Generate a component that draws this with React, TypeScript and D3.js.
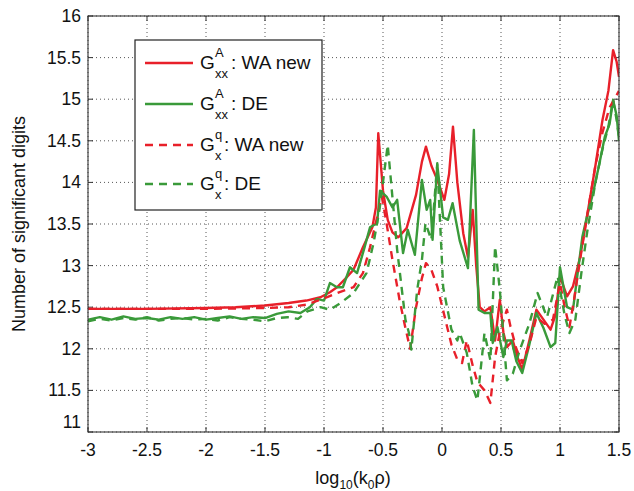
import React from "react";
import * as d3 from "d3";

const xTicks = [-3, -2.5, -2, -1.5, -1, -0.5, 0, 0.5, 1, 1.5];
const yTicks = [11, 11.5, 12, 12.5, 13, 13.5, 14, 14.5, 15, 15.5, 16];

const redSolidX = [-3, -2.5, -2, -1.75, -1.5, -1.3, -1.15, -1.03, -0.95, -0.89, -0.82, -0.75, -0.67, -0.59, -0.56, -0.54, -0.5, -0.46, -0.42, -0.37, -0.3, -0.22, -0.17, -0.136, -0.09, -0.04, 0.02, 0.06, 0.093, 0.13, 0.18, 0.22, 0.26, 0.29, 0.32, 0.36, 0.41, 0.45, 0.49, 0.52, 0.55, 0.6, 0.64, 0.68, 0.74, 0.8, 0.86, 0.92, 0.96, 1.0, 1.06, 1.11, 1.17, 1.23, 1.3, 1.36, 1.41, 1.45, 1.48, 1.5];
const redSolidY = [12.48, 12.48, 12.49, 12.5, 12.52, 12.55, 12.58, 12.62, 12.68, 12.74, 12.84, 12.95, 13.22, 13.46, 13.7, 14.59, 13.9, 13.55, 13.4, 13.34, 13.45, 13.85, 14.25, 14.43, 14.2, 14.03, 13.79, 14.1, 14.67, 14.0, 13.39, 13.1, 13.67, 13.0, 12.5, 12.45, 12.5, 12.1, 12.59, 12.2, 12.02, 12.1, 11.9, 11.75, 12.1, 12.47, 12.35, 12.23, 12.4, 12.87, 12.63, 12.75, 13.1, 13.6, 14.2, 14.75, 15.1, 15.59, 15.45, 15.27];

const greenSolidX = [-3, -2.9, -2.8, -2.7, -2.6, -2.5, -2.4, -2.3, -2.2, -2.1, -2.0, -1.9, -1.8, -1.7, -1.6, -1.5, -1.4, -1.3, -1.2, -1.12, -1.06, -1.0, -0.95, -0.89, -0.84, -0.78, -0.72, -0.66, -0.61, -0.55, -0.525, -0.47, -0.42, -0.38, -0.33, -0.29, -0.23, -0.17, -0.13, -0.1, -0.08, -0.04, 0.01, 0.05, 0.09, 0.15, 0.22, 0.27, 0.31, 0.36, 0.41, 0.43, 0.47, 0.52, 0.55, 0.59, 0.63, 0.68, 0.74, 0.8, 0.86, 0.92, 0.96, 1.0, 1.06, 1.11, 1.19, 1.23, 1.28, 1.33, 1.38, 1.42, 1.45, 1.48, 1.5];
const greenSolidY = [12.35, 12.38, 12.35, 12.39, 12.36, 12.37, 12.35, 12.38, 12.36, 12.38, 12.35, 12.37, 12.39, 12.36, 12.38, 12.37, 12.42, 12.45, 12.43, 12.5, 12.6, 12.58, 12.79, 12.74, 12.74, 12.98, 12.91, 13.2, 13.46, 13.51, 13.9, 13.83, 13.7, 13.79, 13.15, 13.43, 13.13, 14.03, 13.67, 13.79, 13.31, 14.21, 13.58, 13.55, 13.75, 13.3, 12.97, 14.63, 12.47, 12.43, 12.43, 12.07, 12.26, 11.9, 12.1, 12.1, 11.85, 11.71, 12.05, 12.43, 12.25, 12.02, 12.07, 12.98, 12.5, 12.47, 13.35, 13.6, 13.87, 14.2, 14.55, 14.7, 14.99, 14.8, 14.5];

const redDashX = [-3, -2, -1.5, -1.3, -1.15, -1.03, -0.89, -0.75, -0.67, -0.61, -0.55, -0.51, -0.47, -0.42, -0.36, -0.31, -0.27, -0.22, -0.17, -0.136, -0.09, -0.04, 0.02, 0.08, 0.13, 0.17, 0.21, 0.26, 0.3, 0.36, 0.41, 0.45, 0.49, 0.55, 0.58, 0.63, 0.68, 0.74, 0.8, 0.87, 0.94, 1.0, 1.04, 1.08, 1.12, 1.17, 1.23, 1.3, 1.36, 1.42, 1.46, 1.5];
const redDashY = [12.48, 12.48, 12.49, 12.5, 12.53, 12.59, 12.67, 12.74, 12.91, 13.22, 13.58, 13.83, 13.51, 13.07, 12.59, 12.25, 12.0, 12.5, 12.85, 13.03, 12.95, 12.75, 12.4, 12.05, 11.87, 11.83, 12.1, 11.8, 11.6, 11.5, 11.35, 11.9, 12.2, 12.47, 12.27, 12.0, 11.83, 12.05, 12.38, 12.3, 12.35, 12.79, 12.5, 12.26, 12.6, 13.07, 13.6, 14.2, 14.6, 14.9, 15.0, 15.1];

const greenDashX = [-3, -2.9, -2.8, -2.7, -2.6, -2.5, -2.4, -2.3, -2.2, -2.1, -2.0, -1.9, -1.8, -1.7, -1.6, -1.5, -1.4, -1.31, -1.22, -1.14, -1.03, -0.95, -0.86, -0.75, -0.64, -0.58, -0.53, -0.46, -0.38, -0.31, -0.28, -0.26, -0.21, -0.17, -0.14, -0.09, -0.04, 0.01, 0.08, 0.13, 0.15, 0.21, 0.26, 0.3, 0.36, 0.41, 0.45, 0.49, 0.55, 0.6, 0.66, 0.74, 0.81, 0.89, 0.98, 1.04, 1.08, 1.13, 1.18, 1.23, 1.3, 1.36, 1.41, 1.45, 1.48, 1.5];
const greenDashY = [12.33, 12.36, 12.34, 12.37, 12.35, 12.38, 12.34, 12.36, 12.37, 12.35, 12.36, 12.34, 12.38, 12.36, 12.35, 12.33, 12.37, 12.38, 12.36, 12.45, 12.5, 12.47, 12.55, 12.67, 12.91, 13.27, 13.67, 14.45, 13.19, 12.35, 12.19, 11.99, 12.71, 13.07, 13.51, 13.31, 14.23, 12.74, 12.23, 12.1, 12.19, 11.95, 11.54, 11.38, 12.19, 11.86, 13.23, 12.71, 11.62, 11.7, 11.99, 12.3, 12.67, 12.38, 12.87, 12.4, 12.19, 12.35, 12.9, 13.4, 14.0, 14.4, 14.67, 14.99, 14.75, 14.55];

const RED = "#e8202a";
const GREEN = "#3a9a3a";

const W = 634, H = 491;
const L = 88, R = 619, T = 16, B = 432;
const FONT = "'Liberation Sans', Arial, Helvetica, sans-serif";

export default function App() {
  const x = d3.scaleLinear().domain([-3, 1.5]).range([L, R]);
  const y = d3.scaleLinear().domain([11, 16]).range([B, T]);
  const line = (xs: number[], ys: number[]) =>
    d3.line<number>().x((_, i) => x(xs[i])).y((d) => y(d))(ys) || "";

  const series = [
    { xs: redSolidX, ys: redSolidY, color: RED, dash: undefined },
    { xs: greenSolidX, ys: greenSolidY, color: GREEN, dash: undefined },
    { xs: redDashX, ys: redDashY, color: RED, dash: "8,6" },
    { xs: greenDashX, ys: greenDashY, color: GREEN, dash: "8,6" },
  ];

  const legendItems = [
    { color: RED, dash: undefined, sup: "A", sub: "xx", label: ": WA new" },
    { color: GREEN, dash: undefined, sup: "A", sub: "xx", label: ": DE" },
    { color: RED, dash: "8,6", sup: "q", sub: "x", label: ": WA new" },
    { color: GREEN, dash: "8,6", sup: "q", sub: "x", label: ": DE" },
  ];
  const legendYs = [63, 104, 145, 184];

  return (
    <svg width={W} height={H} style={{ position: "absolute", left: 0, top: 0, background: "#fff" }} fontFamily={FONT}>
      <defs>
        <clipPath id="plotclip">
          <rect x={L} y={T} width={R - L} height={B - T} />
        </clipPath>
      </defs>
      <rect x={0} y={0} width={W} height={H} fill="#fff" />
      {xTicks.map((t) => (
        <line key={"gx" + t} x1={x(t)} x2={x(t)} y1={T} y2={B} stroke="#444" strokeWidth={0.9} strokeDasharray="1,3" />
      ))}
      {yTicks.map((t) => (
        <line key={"gy" + t} x1={L} x2={R} y1={y(t)} y2={y(t)} stroke="#444" strokeWidth={0.9} strokeDasharray="1,3" />
      ))}
      {xTicks.map((t) => (
        <g key={"tx" + t}>
          <line x1={x(t)} x2={x(t)} y1={B} y2={B - 5} stroke="#333" />
          <line x1={x(t)} x2={x(t)} y1={T} y2={T + 5} stroke="#333" />
        </g>
      ))}
      {yTicks.map((t) => (
        <g key={"ty" + t}>
          <line x1={L} x2={L + 5} y1={y(t)} y2={y(t)} stroke="#333" />
          <line x1={R} x2={R - 5} y1={y(t)} y2={y(t)} stroke="#333" />
        </g>
      ))}
      <g clipPath="url(#plotclip)">
        {series.map((s, i) => (
          <path key={i} d={line(s.xs, s.ys)} fill="none" stroke={s.color} strokeWidth={2.4} strokeDasharray={s.dash} strokeLinejoin="round" />
        ))}
      </g>
      <rect x={L} y={T} width={R - L} height={B - T} fill="none" stroke="#333" strokeWidth={1.1} />
      {xTicks.map((t) => (
        <text key={"lx" + t} x={x(t)} y={456} textAnchor="middle" fontSize={17.5} fill="#111">{String(t)}</text>
      ))}
      {yTicks.map((t) => (
        <text key={"ly" + t} x={81} y={t === 11 ? y(t) - 4 : y(t) + 6} textAnchor="end" fontSize={17.5} fill="#111">{String(t)}</text>
      ))}
      <text x={353} y={484} textAnchor="middle" fontSize={18} fill="#111">
        log<tspan fontSize={12} dy={5}>10</tspan><tspan dy={-5}>(k</tspan><tspan fontSize={12} dy={5}>0</tspan><tspan dy={-5}>ρ)</tspan>
      </text>
      <text transform="translate(25,224) rotate(-90)" textAnchor="middle" fontSize={18} fill="#111">Number of significant digits</text>
      <rect x={135} y={40} width={187} height={170} fill="#fff" stroke="#222" strokeWidth={1.2} />
      {legendItems.map((it, i) => {
        const ly = legendYs[i];
        const subW = it.sub.length * 7.5;
        return (
          <g key={"lg" + i}>
            <line x1={145} x2={193} y1={ly} y2={ly} stroke={it.color} strokeWidth={2.4} strokeDasharray={it.dash} />
            <text x={200} y={ly + 6} fontSize={19} fill="#111">G</text>
            <text x={215} y={ly - 6} fontSize={13} fill="#111">{it.sup}</text>
            <text x={215} y={ly + 15} fontSize={13} fill="#111">{it.sub}</text>
            <text x={215 + Math.max(subW, 8) + 1} y={ly + 6} fontSize={19} fill="#111">{it.label}</text>
          </g>
        );
      })}
    </svg>
  );
}
